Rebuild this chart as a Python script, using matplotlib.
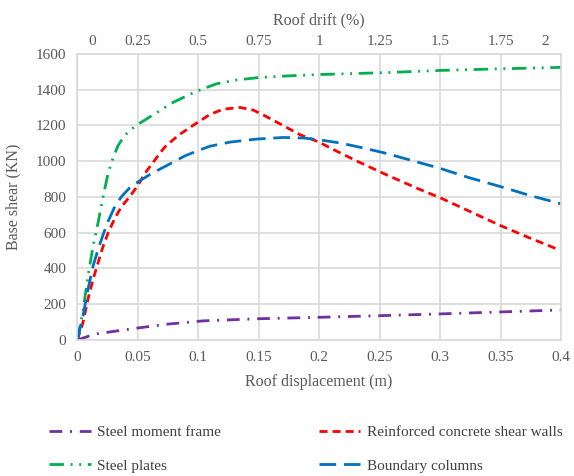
import matplotlib.pyplot as plt
import matplotlib.transforms as mtransforms

plt.rcParams['font.family'] = ['Liberation Serif', 'DejaVu Serif']

# Pushover curves: roof displacement (m) vs base shear (KN)
smf_x = [0, 0.0144, 0.0475, 0.075, 0.104, 0.15, 0.2, 0.25, 0.3, 0.35, 0.4]
smf_y = [0, 33, 65, 89, 107, 119, 127, 136, 146, 157, 168]

rc_x = [0, 0.0047, 0.0088, 0.013, 0.0171, 0.0213, 0.0254, 0.031, 0.0365, 0.0434,
        0.0503, 0.0558, 0.064, 0.0724, 0.0834, 0.0945, 0.1097, 0.1207, 0.1345,
        0.1456, 0.1566, 0.1704, 0.1843, 0.2, 0.2119, 0.2312, 0.256, 0.283, 0.3,
        0.324, 0.35, 0.374, 0.396]
rc_y = [0, 98, 228, 339, 431, 524, 598, 681, 746, 802,
        867, 931, 1006, 1080, 1144, 1195, 1262, 1291, 1301,
        1286, 1249, 1199, 1148, 1107, 1065, 1001, 923, 843, 796,
        721, 640, 571, 511]

sp_x = [0, 0.0047, 0.0088, 0.013, 0.0171, 0.0213, 0.0254, 0.0296, 0.0337, 0.0392,
        0.0461, 0.0517, 0.064, 0.078, 0.0917, 0.1, 0.115, 0.132, 0.15, 0.173,
        0.2, 0.226, 0.256, 0.3, 0.35, 0.4]
sp_y = [0, 163, 357, 524, 654, 802, 931, 1020, 1088, 1145,
        1186, 1213, 1265, 1325, 1370, 1395, 1433, 1455, 1468, 1477,
        1485, 1490, 1496, 1508, 1517, 1525]

bc_x = [0, 0.0047, 0.0088, 0.013, 0.0171, 0.0213, 0.0254, 0.031, 0.0365, 0.0434,
        0.0503, 0.0613, 0.0751, 0.089, 0.1, 0.1097, 0.1262, 0.1483, 0.1704,
        0.187, 0.2, 0.2174, 0.2367, 0.256, 0.3, 0.324, 0.35, 0.374, 0.4]
bc_y = [0, 135, 283, 413, 505, 589, 663, 746, 802, 852,
        885, 931, 980, 1030, 1060, 1084, 1107, 1124, 1133,
        1130, 1120, 1102, 1074, 1043, 960, 908, 858, 809, 762]

x_ticks = [0, 0.05, 0.1, 0.15, 0.2, 0.25, 0.3, 0.35, 0.4]
x_labels = ['0', '0.05', '0.1', '0.15', '0.2', '0.25', '0.3', '0.35', '0.4']
drift_labels = ['0', '0.25', '0.5', '0.75', '1', '1.25', '1.5', '1.75', '2']
y_ticks = [0, 200, 400, 600, 800, 1000, 1200, 1400, 1600]

grid_c = '#D9D9D9'
text_c = '#595959'

fig = plt.figure(figsize=(5.74, 4.76), dpi=100)
ax = fig.add_axes([0.1347, 0.2857, 0.8427, 0.6009])

lw = 2.0
ax.plot(smf_x, smf_y, color='#7030A0', lw=lw, dashes=(4.6, 2.8, 0.7, 2.8),
        label='Steel moment frame')
ax.plot(sp_x, sp_y, color='#00B050', lw=lw,
        dashes=(5.2, 2.4, 0.7, 2.4, 0.7, 2.4), label='Steel plates')
ax.plot(rc_x, rc_y, color='#FF0000', lw=lw, dashes=(2.9, 1.8),
        label='Reinforced concrete shear walls')
ax.plot(bc_x, bc_y, color='#0070C0', lw=lw, dashes=(6.0, 2.8),
        label='Boundary columns')

ax.set_xlim(0, 0.4)
ax.set_ylim(0, 1600)
ax.set_xticks(x_ticks)
ax.set_xticklabels(x_labels)
ax.set_yticks(y_ticks)
ax.grid(True, color=grid_c, lw=1.2)
ax.set_axisbelow(True)
for s in ax.spines.values():
    s.set_color(grid_c)
    s.set_linewidth(1.2)
ax.tick_params(length=0, labelsize=11, colors=text_c)
ax.tick_params(axis='x', pad=8)
ax.tick_params(axis='y', pad=8)
ax.set_xlabel('Roof displacement (m)', fontsize=11.5, color=text_c, labelpad=7)
ax.set_ylabel('Base shear (KN)', fontsize=11.5, color=text_c, labelpad=10)

# secondary axis: roof drift in percent
top = ax.twiny()
top.set_xlim(0, 0.4)
top.set_xticks(x_ticks)
top.set_xticklabels(drift_labels)
top.tick_params(length=0, labelsize=11, colors=text_c, pad=4)
for s in top.spines.values():
    s.set_visible(False)
top.set_xlabel('Roof drift (%)', fontsize=11.5, color=text_c, labelpad=8)
tl = top.get_xticklabels()
tl[0].set_transform(tl[0].get_transform() +
                    mtransforms.ScaledTranslation(15 / 100, 0, fig.dpi_scale_trans))
tl[-1].set_transform(tl[-1].get_transform() +
                     mtransforms.ScaledTranslation(-16 / 100, 0, fig.dpi_scale_trans))

fig.legend(loc='upper left', bbox_to_anchor=(0.062, 0.135), ncol=2,
           frameon=False, fontsize=11, handlelength=2.7, handletextpad=0.45,
           columnspacing=6.4, labelspacing=1.3, labelcolor='#404040')

fig.savefig('out.png', dpi=100)
